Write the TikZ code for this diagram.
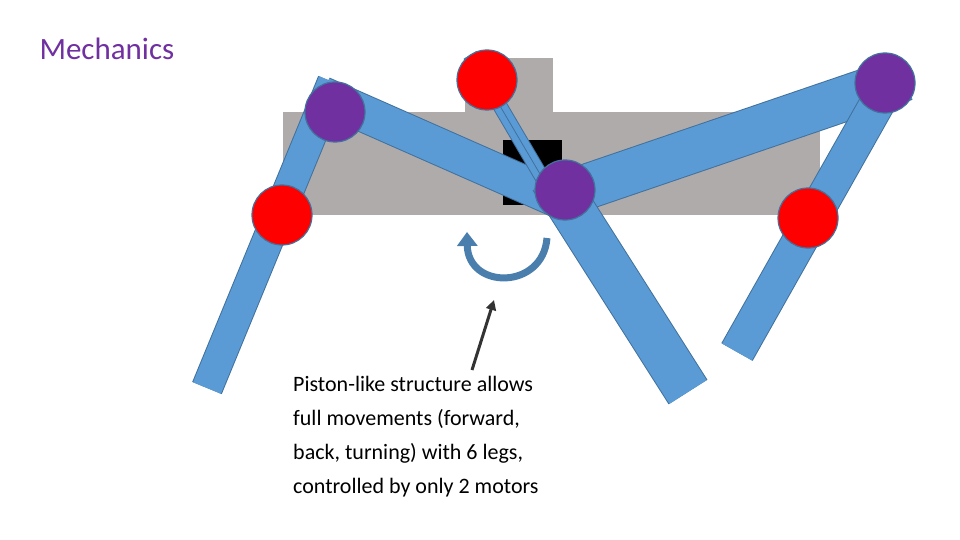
\documentclass[tikz,border=0pt]{standalone}
\usepackage{fontspec}
\setmainfont{Carlito}
\usetikzlibrary{arrows.meta}
\definecolor{barb}{HTML}{5B9BD5}
\definecolor{bard}{HTML}{41719C}
\definecolor{body}{HTML}{AFABAB}
\definecolor{purp}{HTML}{7030A0}
\begin{document}
\begin{tikzpicture}[x=1pt,y=-1pt,
  bar/.style args={#1}{line width=#1},
  joint/.style={circle,draw=bard,line width=1.2pt,minimum size=60pt,inner sep=0},
  pj/.style={joint,fill=purp},
  rj/.style={joint,fill=red}]
\useasboundingbox (0,0) rectangle (960,540);
\newcommand{\legbar}[3]{\draw[line width=#3+2,bard] #1 -- #2; \draw[line width=#3,barb] #1 -- #2;}
\fill[body] (465,58) rectangle (553,113);
\fill[body] (283,112) rectangle (820,215);
\fill[black] (503,140) rectangle (562,205);
\node[font=\fontsize{31}{36}\selectfont,text=purp,anchor=base west] (title) at (36,60) {Mechanics};
\legbar{(333,82)}{(207,388)}{30}
\legbar{(322,95)}{(560,200)}{36}
\legbar{(568,193)}{(905,78)}{44}
\legbar{(895,72)}{(737,352)}{34}
\legbar{(552,178)}{(688,392)}{44}
% piston
\draw[line width=15,bard] (470,55) -- (560,208);
\draw[line width=13,barb] (470,55) -- (560,208);
\draw[bard,line width=0.8] (470,55) -- (560,208);
\node[rj] (r1) at (282,215) {};
\node[pj] (p1) at (335,112) {};
\node[rj] (r2) at (487,80) {};
\node[pj] (p2) at (565,190) {};
\node[pj] (p3) at (885,83) {};
\node[rj] (r3) at (808,218) {};
% rotation arrow
\draw[line width=7,bard!70!barb,-{Triangle[length=14,width=20]}] (547,238) .. controls (543,290) and (468,290) .. (467,232);
% pointer
\node[align=left,anchor=north west,font=\fontsize{22}{34}\selectfont,inner sep=0] (txt) at (293,376) {Piston-like structure allows\\full movements (forward,\\back, turning) with 6 legs,\\controlled by only 2 motors};
\coordinate (ptip) at (494,300);
\draw[line width=3,black!80,-{Triangle[length=10,width=10]}] (472,370) -- (ptip);
\end{tikzpicture}
\end{document}
